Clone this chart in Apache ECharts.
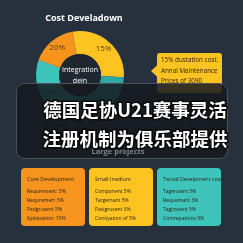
<!DOCTYPE html>
<html><head><meta charset="utf-8">
<script src="https://cdn.jsdelivr.net/npm/echarts@6/dist/echarts.min.js"></script>
<style>html,body{margin:0;padding:0;background:#27313d;}#c{width:243px;height:243px;}</style>
</head><body><div id="c"></div>
<script>
const chartTitle = 'Cost Develadown';
const pieNames = ['Small Inedium', 'Maintenance', 'Total Development', 'Core Development'];
const pieValues = [103, 101, 96, 60];
const pieLabels = ['15%', '', '15%', '20%'];
const pieColors = ['#fdc421', '#2fa7a4', '#3ec4ba', '#f7941d'];
const centerText = 'Integration\ndein';
const calloutLines = ['15% dustation cost.', 'Annal Maintenance', 'Prices of 3090'];
const headlineLines = ['德国足协U21赛事灵活', '注册机制为俱乐部提供'];
const subCaption = 'Large projects';
const cardTitles = ['Core Development', 'Small Inedium', 'Tecsal Develpment cost'];
const cardLines = [
  ['Requrement: 5%', 'Requremen: 5%', 'Pedgrusent 5%', 'Sydepation: 10%'],
  ['Component 5%', 'Targemant 5%', 'Pasigrusent 3%', 'Contiyation of 5%'],
  ['Tagerstent 5%', 'Requemant 3%', 'Tagjrosent 5%', 'Comrapations 9%']
];
const cardColors = ['#f7941d', '#fdc421', '#3ec4ba'];

const chart = echarts.init(document.getElementById('c'), null, {renderer: 'canvas'});
const fam = 'Open Sans';

function txt(x, y, text, opts) {
  return Object.assign({type: 'text', z: 11, style: Object.assign({x: x, y: y, text: text, fontFamily: fam, verticalAlign: 'middle', textVerticalAlign: 'middle'}, opts.style)}, opts.el || {});
}

const graphics = [];
// callout box
graphics.push({type: 'rect', z: 50, shape: {x: 157, y: 53, width: 65, height: 40, r: 3}, style: {fill: '#fdc421'}});
graphics.push({type: 'polygon', z: 50, shape: {points: [[157.5, 65], [151, 71], [157.5, 77]]}, style: {fill: '#fdc421'}});
calloutLines.forEach((t, i) => {
  graphics.push(txt(161, 60.5 + i * 10.3, t, {el: {z: 51}, style: {fill: '#2e2406', fontSize: 6.3}}));
});
// overlay
graphics.push({type: 'rect', z: 100, shape: {x: 16.5, y: 83.5, width: 211, height: 75, r: 8}, style: {fill: 'rgba(22,26,32,0.86)', stroke: '#4b5159', lineWidth: 1}});
headlineLines.forEach((t, i) => {
  graphics.push(txt(135, 110 + i * 29, t, {el: {z: 101}, style: {fill: '#ffffff', stroke: '#0a0a0a', lineWidth: 3, fontSize: 18.5, fontWeight: 'bold', fontFamily: 'Noto Sans CJK SC', align: 'center', textAlign: 'center'}}));
});
graphics.push(txt(118, 152, subCaption, {el: {z: 101}, style: {fill: '#7d838b', fontSize: 7.5, fontWeight: 'bold', align: 'center', textAlign: 'center'}}));
// cards
cardTitles.forEach((title, c) => {
  const x0 = 21 + c * 68;
  graphics.push({type: 'rect', z: 10, shape: {x: x0, y: 168, width: 64, height: 58, r: 4}, style: {fill: cardColors[c]}});
  graphics.push(txt(x0 + 6, 179, title, {style: {fill: '#2a2418', fontSize: 5.4}}));
  cardLines[c].forEach((t, i) => {
    graphics.push(txt(x0 + 6, 192 + i * 9, t, {style: {fill: '#2a2418', fontSize: 5}}));
  });
});

chart.setOption({
  backgroundColor: '#27313d',
  animation: false,
  title: {text: chartTitle, left: 79, top: 9, textAlign: 'center', textStyle: {color: '#ffffff', fontSize: 9, fontWeight: 'bold', fontFamily: fam}},
  series: [
    {
      type: 'pie', center: [80, 75], radius: [21, 44], startAngle: 100, clockwise: true,
      silent: true, z: 2,
      data: pieValues.map((v, i) => ({value: v, name: pieNames[i], itemStyle: {color: pieColors[i]},
        label: {formatter: pieLabels[i], color: i === 2 ? '#1e4a46' : '#5a3a10'}})),
      label: {show: true, position: 'inside', fontSize: 8, fontFamily: fam},
      labelLine: {show: false}
    },
    {
      type: 'pie', center: [80, 75], radius: [0, 21], silent: true, z: 3,
      data: [{value: 1, itemStyle: {color: '#1f2830'}}],
      label: {show: true, position: 'center', formatter: centerText, color: '#ffffff', fontSize: 7, lineHeight: 11, fontFamily: fam},
      labelLine: {show: false}
    }
  ],
  graphic: {elements: graphics}
});
</script></body></html>
